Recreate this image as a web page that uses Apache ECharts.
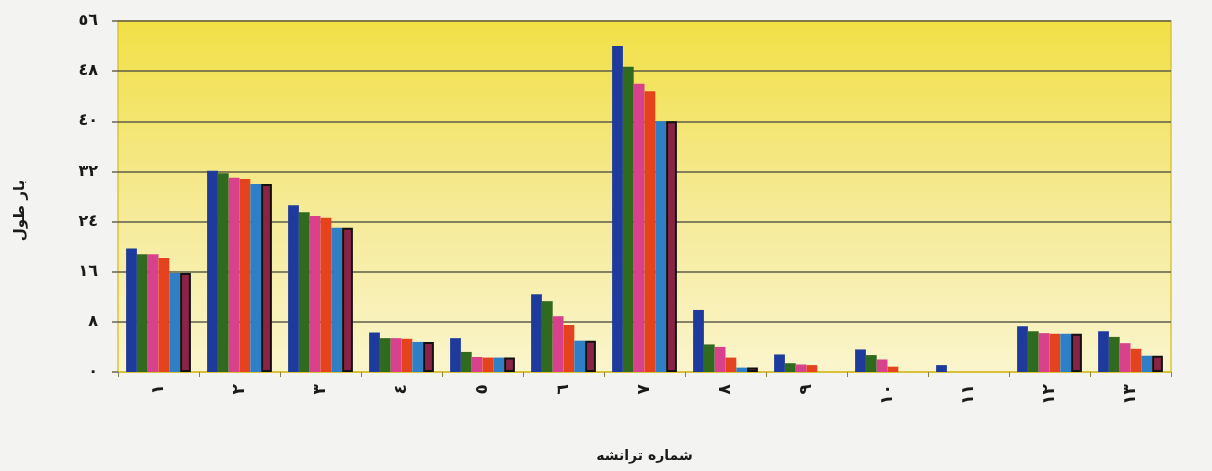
<!DOCTYPE html>
<html>
<head>
<meta charset="utf-8">
<script src="https://cdn.jsdelivr.net/npm/echarts@6/dist/echarts.min.js"></script>
<style>
html,body{margin:0;padding:0;background:#f3f3f1;}
#chart{width:1212px;height:471px;}
</style>
</head>
<body>
<div id="chart"></div>
<script>
// Trench numbers (Arabic-Indic digits)
const categories = ['١','٢','٣','٤','٥','٦','٧','٨','٩','١٠','١١','١٢','١٣'];
const yTicks = ['٠','٨','١٦','٢٤','٣٢','٤٠','٤٨','٥٦'];

const seriesA = [19.7, 32.1, 26.6, 6.3, 5.4, 12.4, 52.0, 9.9, 2.8, 3.6, 1.1, 7.3, 6.5];
const seriesB = [18.8, 31.7, 25.5, 5.4, 3.2, 11.3, 48.7, 4.4, 1.4, 2.7, 0, 6.5, 5.6];
const seriesC = [18.8, 31.0, 24.9, 5.4, 2.4, 8.9, 46.0, 4.0, 1.2, 2.0, 0, 6.2, 4.6];
const seriesD = [18.2, 30.8, 24.6, 5.3, 2.3, 7.5, 44.8, 2.3, 1.1, 0.85, 0, 6.1, 3.7];
const seriesE = [15.8, 30.0, 23.0, 4.8, 2.3, 5.0, 40.0, 0.7, 0, 0, 0, 6.1, 2.6];
const seriesF = [15.8, 30.0, 23.0, 4.8, 2.3, 5.0, 40.0, 0.7, null, null, null, 6.1, 2.6];

const colors = ['#1d3a9c', '#2f6a1e', '#d8428c', '#e5421e', '#2f7fc6', '#8a2446'];
const values = [seriesA, seriesB, seriesC, seriesD, seriesE, seriesF];

const font = 'DejaVu Sans';
const chart = echarts.init(document.getElementById('chart'), null, {renderer: 'canvas'});

chart.setOption({
  animation: false,
  backgroundColor: '#f3f3f1',
  grid: {
    left: 118, right: 41, top: 21, bottom: 99,
    show: true,
    borderColor: '#dcc43a',
    borderWidth: 1.5,
    backgroundColor: new echarts.graphic.LinearGradient(0, 0, 0, 1, [
      {offset: 0, color: '#f2e045'},
      {offset: 0.5, color: '#f5e992'},
      {offset: 1, color: '#faf5cd'}
    ])
  },
  xAxis: {
    type: 'category',
    data: categories,
    name: 'شماره ترانشه',
    nameLocation: 'middle',
    nameGap: 77,
    nameTextStyle: {fontFamily: font, fontWeight: 'bold', fontSize: 14, color: '#1a1a1a'},
    axisLine: {lineStyle: {color: '#d8c23a', width: 2}},
    axisTick: {show: true, length: 5, lineStyle: {color: '#8a8040'}},
    axisLabel: {rotate: 90, margin: 12, fontFamily: font, fontWeight: 'bold', fontSize: 17, color: '#1a1a1a'}
  },
  yAxis: {
    type: 'value',
    min: 0, max: 56, interval: 8,
    name: 'بار طول',
    nameLocation: 'middle',
    nameGap: 90,
    nameRotate: 90,
    nameTextStyle: {fontFamily: font, fontWeight: 'bold', fontSize: 15, color: '#1a1a1a', padding: [0, 28, 0, 0]},
    axisLine: {show: false},
    axisTick: {show: true, length: 6, lineStyle: {color: '#6a6650', width: 1.5}},
    axisLabel: {
      margin: 20, fontFamily: font, fontWeight: 'bold', fontSize: 16, color: '#1a1a1a',
      formatter: v => yTicks[Math.round(v / 8)]
    },
    splitLine: {lineStyle: {color: '#5e5c48', width: 1.5}}
  },
  series: values.map((vals, i) => ({
    type: 'bar',
    data: vals,
    barGap: '0%',
    barCategoryGap: '20%',
    itemStyle: i === 5
      ? {color: colors[i], borderColor: '#111', borderWidth: 2}
      : {color: colors[i]}
  }))
});
</script>
</body>
</html>
